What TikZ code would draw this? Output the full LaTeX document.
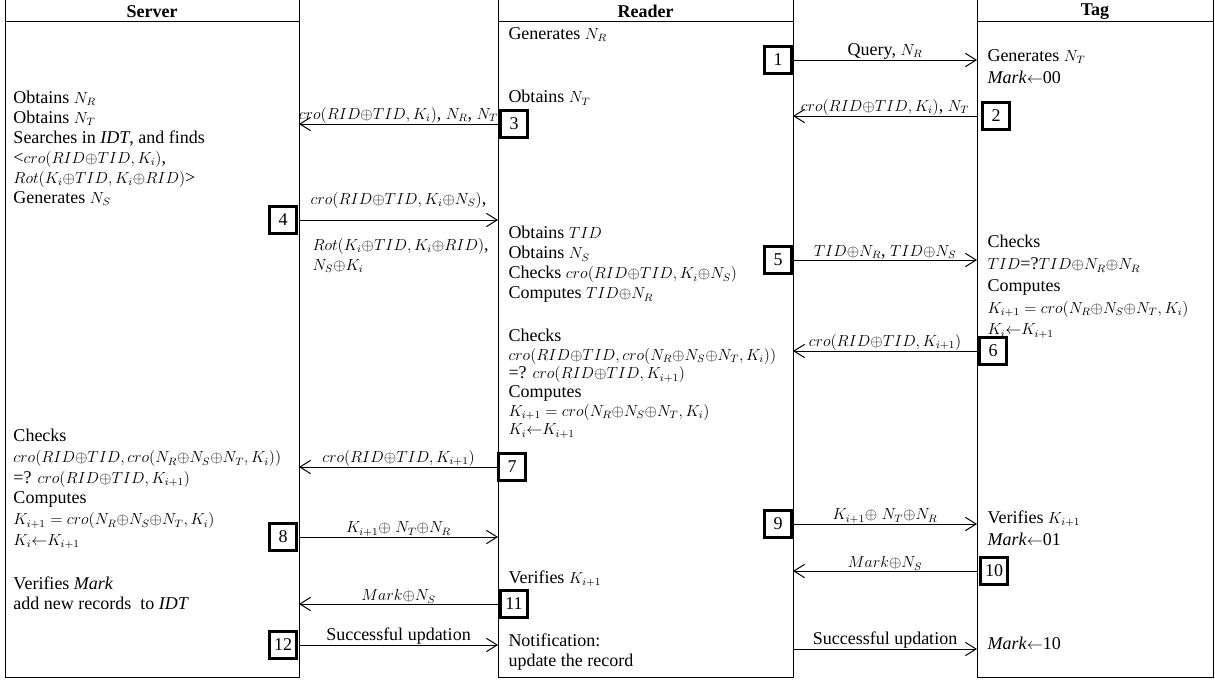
\documentclass[tikz,border=0pt]{standalone}
\usepackage{fontspec}
\setmainfont{Liberation Serif}
\usepackage{tikz}
\usetikzlibrary{arrows.meta, positioning, calc}
\DeclareMathSizes{13.5}{11.5}{8.2}{6.5}
\tikzset{
	coltext/.style={font=\fontsize{13.5}{15}\selectfont, align=left, anchor=north west, inner sep=0pt}
}
\tikzset{
	msgtext/.style={font=\fontsize{13.5}{15}\selectfont, inner sep=0.2pt}
}
\tikzset{
	numbox/.style={draw, line width=2.4pt, minimum size=20pt, inner sep=0pt, font=\fontsize{13.5}{15}\selectfont}
}
\tikzset{
	msg/.style={line width=0.75pt, -{Straight Barb[length=8pt, width=10pt, line width=0.75pt]}}
}
\newcommand{\xo}{{\oplus}}
\newcommand{\lar}{{\leftarrow}}

\begin{document}
\begin{tikzpicture}[x=0.75pt, y=-0.75pt, line width=0.75pt]
  \useasboundingbox (0,0) rectangle (1215,679);
  \foreach \n/\l/\r/\t in {srv/5/299/Server, rdr/498/793/Reader, tag/977/1213/Tag}{
    \draw (\l,0) -- (\l,677) -- (\r,677) -- (\r,0);
    \draw (\l,21.5) -- (\r,21.5);
    \node[font=\fontsize{13.5}{15}\selectfont\bfseries] (\n head) at ({(\l+\r)/2},11.5) {\t};
    \coordinate (\n W) at (\l,0);
    \coordinate (\n E) at (\r,0);
  }
  \foreach \i/\x/\y in {1/778/60, 2/996/116, 3/514/124, 4/283/220, 5/778/260, 6/993/351,
                        7/512/467, 8/283/537, 9/778/524, 10/994/571, 11/514/604, 12/283/645}
    \node[numbox] (n\i) at (\x,\y) {\i};

  \node[coltext] (srv1) at (13,90.5) {Obtains $N_R$\\ Obtains $N_T$\\ Searches in \textit{IDT}, and finds\\
    <$cro(RID\xo TID, K_i)$,\\ $Rot(K_i\xo TID, K_i\xo RID)$>\\ Generates $N_S$};
  \node[coltext, font=\fontsize{13.5}{15.5}\selectfont] (srv2) at (13,429) {Checks\\ $cro(RID\xo TID, cro(N_R\xo N_S\xo N_T, K_i))$\\
    =? $cro(RID\xo TID, K_{i+1})$\\ Computes\\ $K_{i+1} = cro(N_R\xo N_S\xo N_T, K_i)$\\ $K_i\lar K_{i+1}$};
  \node[coltext] (srv3) at (13,576) {Verifies \textit{Mark}\\ add new records~ to \textit{IDT}};

  \node[coltext] (rdr1) at (508,27) {Generates $N_R$};
  \node[coltext] (rdr2) at (508,90) {Obtains $N_T$};
  \node[coltext] (rdr3) at (508,226) {Obtains $TID$\\ Obtains $N_S$\\ Checks $cro(RID\xo TID, K_i\xo N_S)$\\
    Computes $TID\xo N_R$};
  \node[coltext, font=\fontsize{13.5}{14}\selectfont] (rdr4) at (508,328.5) {Checks\\
    $cro(RID\xo TID, cro(N_R\xo N_S\xo N_T, K_i))$\\ =? $cro(RID\xo TID, K_{i+1})$\\ Computes\\
    $K_{i+1} = cro(N_R\xo N_S\xo N_T, K_i)$\\ $K_i\lar K_{i+1}$};
  \node[coltext] (rdr5) at (508,570) {Verifies $K_{i+1}$};
  \node[coltext] (rdr6) at (508,633) {Notification:\\ update the record};

  \node[coltext, font=\fontsize{13.5}{16.5}\selectfont] (tag1) at (987,49) {Generates $N_T$\\ \textit{Mark}$\lar$00};
  \node[coltext, font=\fontsize{13.5}{16.3}\selectfont] (tag2) at (987,235) {Checks\\ $TID$=?$TID\xo N_R\xo N_R$\\
    Computes\\ $K_{i+1} = cro(N_R\xo N_S\xo N_T, K_i)$\\ $K_i\lar K_{i+1}$};
  \node[coltext, font=\fontsize{13.5}{16.5}\selectfont] (tag3) at (987,510) {Verifies $K_{i+1}$\\ \textit{Mark}$\lar$01};
  \node[coltext] (tag4) at (987,637) {\textit{Mark}$\lar$10};

  \draw[msg] (n1 -| rdrE) -- (n1 -| tagW) node[msgtext, midway, above] (m1) {Query, $N_R$};
  \draw[msg] (n2 -| tagW) -- (n2 -| rdrE) node[msgtext, midway, above] (m2) {$cro(RID\xo TID, K_i)$, $N_T$};
  \draw[msg] (n3 -| rdrW) -- (n3 -| srvE) node[msgtext, midway, above] (m3) {$cro(RID\xo TID, K_i)$, $N_R$, $N_T$};
  \draw[msg] (n4 -| srvE) -- (n4 -| rdrW) node[msgtext, midway, above=8pt] (m4) {$cro(RID\xo TID, K_i\xo N_S)$,};
  \node[coltext] (m4b) at (312,238) {$Rot(K_i\xo TID, K_i\xo RID)$,\\ $N_S\xo K_i$};
  \draw[msg] (n5 -| rdrE) -- (n5 -| tagW) node[msgtext, midway, above] (m5) {$TID\xo N_R$, $TID\xo N_S$};
  \draw[msg] (n6 -| tagW) -- (n6 -| rdrE) node[msgtext, midway, above] (m6) {$cro(RID\xo TID, K_{i+1})$};
  \draw[msg] (n7 -| rdrW) -- (n7 -| srvE) node[msgtext, midway, above] (m7) {$cro(RID\xo TID, K_{i+1})$};
  \draw[msg] (n8 -| srvE) -- (n8 -| rdrW) node[msgtext, midway, above] (m8) {$K_{i+1}\xo$ $N_T\xo N_R$};
  \draw[msg] (n9 -| rdrE) -- (n9 -| tagW) node[msgtext, midway, above] (m9) {$K_{i+1}\xo$ $N_T\xo N_R$};
  \draw[msg] (n10 -| tagW) -- (n10 -| rdrE) node[msgtext, midway, above] (m10) {$Mark\xo N_S$};
  \draw[msg] (n11 -| rdrW) -- (n11 -| srvE) node[msgtext, midway, above] (m11) {$Mark\xo N_S$};
  \draw[msg] (n12 -| srvE) -- (n12 -| rdrW) node[msgtext, midway, above] (m12) {Successful updation};
  \coordinate (upd) at (793,649);
  \draw[msg] (upd) -- (upd -| tagW) node[msgtext, midway, above] (m13) {Successful updation};
\end{tikzpicture}
\end{document}
